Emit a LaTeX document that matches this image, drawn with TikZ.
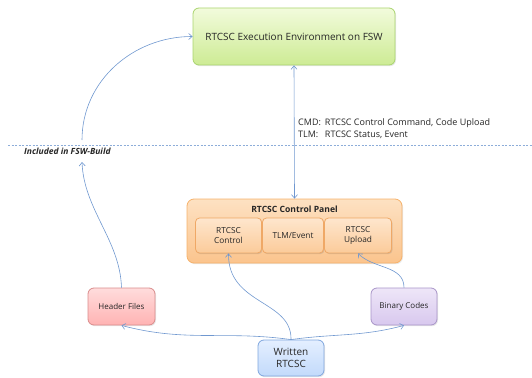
\documentclass[tikz,border=0pt]{standalone}
\usepackage{fontspec}
\setmainfont{Open Sans}
\usetikzlibrary{arrows.meta,shadows}
\definecolor{linec}{HTML}{7098D0}
\definecolor{gD}{HTML}{A9D46E}\definecolor{gT}{HTML}{F2FBDC}\definecolor{gB}{HTML}{CDEB94}
\definecolor{oD}{HTML}{F6B26B}\definecolor{oT}{HTML}{FDE1C2}\definecolor{oB}{HTML}{FBC48D}
\definecolor{sD}{HTML}{EFA866}\definecolor{sT}{HTML}{FEE6CD}\definecolor{sB}{HTML}{FBCB9A}
\definecolor{rD}{HTML}{D98C8C}\definecolor{rT}{HTML}{FFDCDC}\definecolor{rB}{HTML}{FFB3B3}
\definecolor{pD}{HTML}{A894C8}\definecolor{pT}{HTML}{EEE6F8}\definecolor{pB}{HTML}{D8C8EE}
\definecolor{bD}{HTML}{7FA6DE}\definecolor{bT}{HTML}{E4EFFF}\definecolor{bB}{HTML}{C2DAFB}
\definecolor{txt}{HTML}{262626}
\tikzset{
  box/.style={draw, rounded corners=6pt, align=center, inner sep=1pt, line width=0.8pt, text=txt,
    drop shadow={opacity=0.18, shadow xshift=1pt, shadow yshift=-1.2pt}},
  greenbox/.style={box, draw=gD, top color=gT, bottom color=gB},
  orangebox/.style={box, draw=oD, top color=oT, bottom color=oB},
  subbox/.style={box, rounded corners=4pt, draw=sD, top color=sT, bottom color=sB, drop shadow={opacity=0.12, shadow xshift=0.6pt, shadow yshift=-0.8pt}},
  redbox/.style={box, draw=rD, top color=rT, bottom color=rB},
  purplebox/.style={box, draw=pD, top color=pT, bottom color=pB},
  bluebox/.style={box, draw=bD, top color=bT, bottom color=bB},
  conn/.style={draw=linec, line width=0.6pt, -{Straight Barb[length=3.5pt,width=6pt]}},
  lbl/.style={font=\fontsize{9}{12}\selectfont, text=txt},
}
\begin{document}
\begin{tikzpicture}[x=1pt,y=-1pt]
\useasboundingbox (0,0) rectangle (532,377);
% nodes
\node[greenbox, minimum width=202pt, minimum height=57pt, font=\fontsize{10}{12}\selectfont] (env) at (294,36.5) {RTCSC Execution Environment on FSW};
\node[orangebox, minimum width=215pt, minimum height=64pt, rounded corners=7pt] (panel) at (294.5,231) {};
\node[font=\bfseries\fontsize{8.6}{10}\selectfont, text=txt] (ptitle) at (294.5,209) {RTCSC Control Panel};
\node[subbox, minimum width=66pt, minimum height=35pt, font=\fontsize{8.3}{10.5}\selectfont] (ctrl) at (228.5,235.5) {RTCSC\\Control};
\node[subbox, minimum width=61pt, minimum height=35pt, font=\fontsize{8.3}{10.5}\selectfont] (tlm) at (293,235.5) {TLM/Event};
\node[subbox, minimum width=67pt, minimum height=35pt, font=\fontsize{8.3}{10.5}\selectfont] (upl) at (358,235.5) {RTCSC\\Upload};
\node[redbox, minimum width=67pt, minimum height=37pt, font=\fontsize{8}{10}\selectfont] (hdr) at (121.5,306.5) {Header Files};
\node[purplebox, minimum width=66pt, minimum height=37pt, font=\fontsize{8}{10}\selectfont] (bin) at (404,306.5) {Binary Codes};
\node[bluebox, minimum width=66pt, minimum height=36pt, font=\fontsize{10}{12.5}\selectfont] (wr) at (291,358) {Written\\RTCSC};
% dashed boundary
\coordinate (dl) at (8,145);
\coordinate (dr) at (532,145);
\draw[draw=linec!80, dash pattern=on 2pt off 1.5pt, line width=0.6pt] (dl) -- (dr);
\node[anchor=west, font=\bfseries\itshape\fontsize{8.5}{10}\selectfont, text=txt, inner sep=0pt] (incl) at (24,151.5) {Included in FSW-Build};
% label
\node[anchor=west, lbl, inner sep=0pt] (cmd) at (298,129) {\begin{tabular}{@{}l@{\hspace{4pt}}l@{}}CMD: & RTCSC Control Command, Code Upload\\ TLM: & RTCSC Status, Event\end{tabular}};
% connectors
\coordinate (inc) at (82,162);
\coordinate (upst) at (82,140);
\draw[conn, {Straight Barb[length=3.5pt,width=6pt]}-{Straight Barb[length=3.5pt,width=6pt]}] (env.south) -- (panel.north);
\draw[conn] (hdr.north) .. controls (120,240) and (84,210) .. (inc);
\draw[conn] (upst) to[out=90,in=180] (env.west);
\draw[conn] (wr.north) to[out=172,in=-15] (hdr.south);
\draw[conn] (wr.north) to[out=8,in=195] (bin.south);
\draw[conn] (wr.north) .. controls (292,300) and (228,305) .. (ctrl.south);
\draw[conn] (bin.north) to[out=90,in=-45] (upl.south);
\end{tikzpicture}
\end{document}
